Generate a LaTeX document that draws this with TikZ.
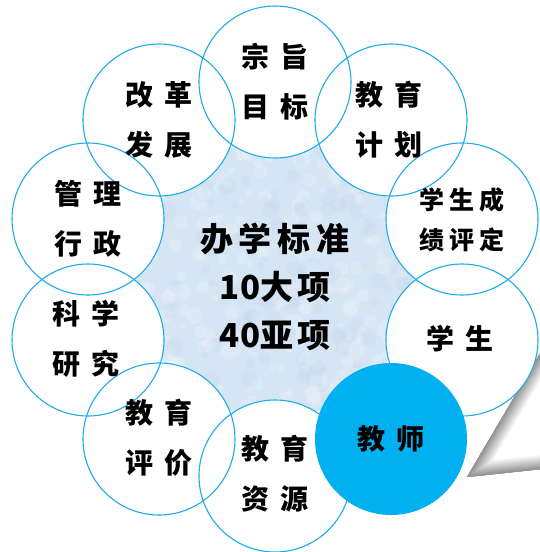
\documentclass[tikz,border=0pt]{standalone}
\usepackage{fontspec}
\newfontfamily\cjk{Noto Sans CJK SC}
\definecolor{ringc}{RGB}{30,172,230}
\definecolor{teach}{RGB}{0,176,240}
\definecolor{core}{RGB}{214,229,244}
\definecolor{coredark}{RGB}{196,215,238}
\newcommand\gp{\hspace{12pt}}
\newcommand\gq{\hspace{6pt}}
\newcommand\gs{\hspace{5pt}}
\tikzset{
  disc/.style={circle, minimum size=152pt, inner sep=0pt, fill=white},
  ring/.style={circle, minimum size=152pt, inner sep=0pt, draw=ringc, line width=1.1pt},
  lbl/.style={align=center, inner sep=0pt, font=\cjk\bfseries\fontsize{28pt}{50pt}\selectfont},
  lbls/.style={align=center, inner sep=0pt, font=\cjk\bfseries\fontsize{25pt}{40pt}\selectfont},
  ctrlbl/.style={align=center, inner sep=0pt, font=\cjk\bfseries\fontsize{33pt}{48pt}\selectfont},
}
\begin{document}
\begin{tikzpicture}[x=1pt,y=-1pt]
\useasboundingbox (0,0) rectangle (539,552);
% page-curl shadow
\coordinate (sa) at (542,350);
\coordinate (sb) at (467,477);
\coordinate (sc) at (542,469);
\begin{scope}
  \clip (sa)--(sb)--(sc)--cycle;
  \fill[white] (sa)--(sb)--(sc)--cycle;
  \foreach \i in {0,...,14} {
    \pgfmathtruncatemacro\w{2*(15-\i)}
    \pgfmathtruncatemacro\k{3*\i}
    \draw[line width=\w pt, black!\k] (sa)--(sb)--(sc);
  }
\end{scope}
% central circle
\node[circle, minimum size=278pt, inner sep=0pt, fill=core] (ctr) at (275,279) {};
\begin{scope}
  \clip (275,279) circle (139);
  \pgfmathsetseed{11}
  \foreach \i in {1,...,220} {
    \fill[white, opacity=0.18] (275+139*rand, 279+139*rand) circle ({3+6*rnd});
  }
  \foreach \i in {1,...,140} {
    \fill[coredark, opacity=0.25] (275+139*rand, 279+139*rand) circle ({3+6*rnd});
  }
\end{scope}
% white discs
\node[disc] (c1) at (275,82) {};
\node[disc] (c2) at (391,120) {};
\node[disc] (c3) at (462,219) {};
\node[disc] (c4) at (462,340) {};
\node[disc] (c6) at (275,476) {};
\node[disc] (c7) at (159,439) {};
\node[disc] (c8) at (88,340) {};
\node[disc] (c9) at (88,219) {};
\node[disc] (c10) at (159,120) {};
% outlines
\foreach \n in {c1,c2,c3,c4,c6,c7,c8,c9,c10} {
  \node[ring] (r\n) at (\n) {};
}
% teacher disc
\node[disc, fill=teach] (c5) at (391,439) {};
% labels
\node[lbl] (t1) at (c1) {宗\gp 旨\\目\gp 标};
\node[lbl] (t2) at ([xshift=-2pt]c2) {教\gp 育\\计\gp 划};
\node[lbls] (t3) at ([yshift=-1pt]c3) {学\gs 生\gs 成\\绩\gs 评\gs 定};
\node[lbl] (t4) at ([xshift=-2pt,yshift=1pt]c4) {学\gp 生};
\node[lbl] (t5) at (c5) {教\gp 师};
\node[lbl] (t6) at ([yshift=2pt]c6) {教\gp 育\\资\gp 源};
\node[lbl] (t7) at ([yshift=1pt]c7) {教\gp 育\\评\gp 价};
\node[lbl] (t8) at ([xshift=-2pt,yshift=1pt]c8) {科\gp 学\\研\gp 究};
\node[lbl] (t9) at (c9) {管\gp 理\\行\gp 政};
\node[lbl] (t10) at (c10) {改\gp 革\\发\gp 展};
\node[ctrlbl] (tc) at (275,287) {办\gq 学\gq 标\gq 准\\10大\hspace{4pt}项\\40亚\hspace{4pt}项};
\end{tikzpicture}
\end{document}
